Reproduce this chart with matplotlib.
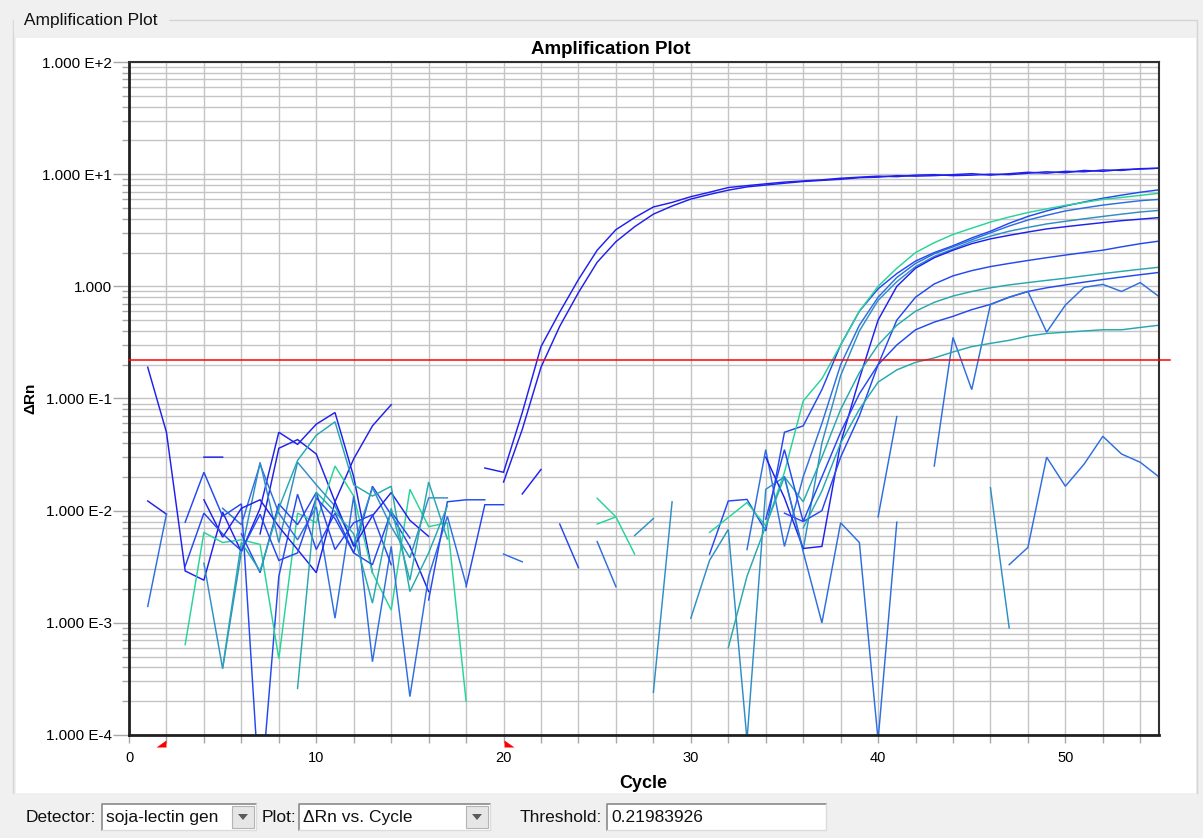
import numpy as np
import matplotlib
matplotlib.use("Agg")
import matplotlib.pyplot as plt
from matplotlib.patches import Rectangle, Polygon
from matplotlib.ticker import FixedLocator, FixedFormatter, LogLocator, NullFormatter

plt.rcParams["font.family"] = ["Liberation Sans", "DejaVu Sans"]

W, H = 1203, 838
nan = np.nan

# ---- data: delta Rn per well, cycles 1..55 (nan = not drawn / negative) ----
cycles = np.arange(1, 56)
threshold = 0.21983926

well_a = [0.19, 0.05, 0.0029, 0.0024, 0.0097, 0.0043, 0.0105, 0.05, 0.039, 0.059, 0.075,
          0.02, 0.0028, nan, 0.0048, 0.0019, nan, nan, 0.024, 0.022, 0.075, 0.29,
          0.59, 1.15, 2.1, 3.2, 4.1, 5.1, 5.6, 6.3, 6.9, 7.6, 7.9,
          8.2, 8.5, 8.7, 8.9, 9.2, 9.4, 9.6, 9.5, 9.8, 9.9, 9.7,
          9.8, 10.0, 9.9, 10.2, 10.5, 10.3, 10.8, 10.6, 11.0, 11.1, 11.3]
well_b = [0.0122, 0.0093, nan, 0.03, 0.03, nan, 0.0062, 0.036, 0.043, 0.032, 0.012,
          0.029, 0.057, 0.088, nan, nan, nan, nan, nan, 0.018, 0.053, 0.19,
          0.44, 0.88, 1.64, 2.5, 3.4, 4.4, 5.2, 6.0, 6.6, 7.2, 7.7,
          8.0, 8.3, 8.6, 8.8, 9.0, 9.3, 9.4, 9.7, 9.6, 9.7, 9.9,
          10.1, 9.8, 10.1, 10.4, 10.2, 10.6, 10.5, 10.9, 10.8, 11.2, 11.3]
well_c = [nan, nan, 0.0079, 0.022, 0.0089, 0.0115, 2.5e-5, 0.0026, 0.014, 0.0045, 0.0095,
          0.0042, 0.0165, 0.0092, 0.0048, nan, nan, 0.0021, 0.0113, 0.0113, nan, nan,
          0.0076, 0.0031, nan, nan, nan, nan, nan, nan, 0.0041, 0.0122, 0.0126,
          0.0066, 0.05, 0.057, 0.12, 0.3, 0.6, 0.95, 1.3, 1.68, 2.0, 2.3,
          2.7, 3.1, 3.65, 4.2, 4.7, 5.2, 5.65, 6.1, 6.5, 6.9, 7.25]
well_d = [nan, nan, 0.00064, 0.0064, 0.0052, 0.0055, 0.005, 0.00048, 0.0095, 0.0078, 0.025,
          0.0135, 0.0028, 0.0013, 0.0155, 0.0072, 0.0078, 0.0002, nan, nan, nan, nan,
          nan, nan, 0.0129, 0.0088, 0.0041, nan, nan, nan, 0.0064, 0.0087, 0.0118,
          0.0073, 0.022, 0.095, 0.15, 0.3, 0.6, 1.0, 1.45, 2.0, 2.45, 2.9,
          3.3, 3.74, 4.15, 4.55, 4.9, 5.27, 5.6, 5.96, 6.2, 6.47, 6.75]
well_e = [0.0014, 0.0093, nan, nan, 0.0105, 0.0075, 0.026, 0.0095, 0.0055, 0.0108, 0.0011,
          0.0135, 0.00045, 0.0048, 0.00022, 0.0026, 0.0089, 0.0022, nan, 0.0041, 0.0035, nan,
          nan, nan, 0.0053, 0.0021, nan, nan, nan, nan, nan, nan, 0.0045,
          0.035, 0.0048, 0.02, 0.06, 0.2, 0.45, 0.8, 1.2, 1.6, 1.95, 2.25,
          2.6, 3.0, 3.45, 3.9, 4.3, 4.7, 5.0, 5.3, 5.55, 5.8, 5.96]
well_f = [nan, nan, nan, 0.0034, 0.00039, 0.0043, 0.027, 0.0052, 0.027, 0.017, 0.011,
          0.005, 0.016, 0.0072, 0.0038, 0.013, 0.013, nan, nan, nan, nan, nan,
          nan, nan, nan, nan, 0.006, 0.0085, nan, 0.0011, 0.0036, 0.0068, 9e-5,
          0.0155, 0.02, 0.0045, 0.04, 0.16, 0.4, 0.75, 1.1, 1.5, 1.85, 2.15,
          2.5, 2.8, 3.1, 3.35, 3.6, 3.8, 4.0, 4.2, 4.4, 4.6, 4.75]
well_g = [nan, nan, nan, 0.0125, 0.0058, 0.0105, 0.0125, 0.0072, 0.0045, 0.0028, 0.012,
          0.0048, 0.009, 0.0145, 0.0082, 0.0059, nan, nan, nan, nan, 0.0141, 0.0233,
          nan, nan, nan, nan, nan, nan, nan, nan, nan, nan, nan,
          0.03, 0.013, 0.0046, 0.0048, 0.04, 0.15, 0.5, 1.0, 1.45, 1.8, 2.1,
          2.4, 2.65, 2.85, 3.05, 3.25, 3.4, 3.55, 3.7, 3.85, 3.97, 4.1]
well_h = [nan, nan, nan, nan, nan, 0.0062, 0.0028, 0.0115, 0.0075, 0.0145, 0.0045,
          0.0078, 0.0092, 0.0033, nan, 0.0016, 0.012, 0.0125, 0.0125, nan, nan, nan,
          nan, nan, nan, nan, nan, nan, nan, nan, nan, nan, nan,
          nan, 0.0095, 0.008, 0.01, 0.03, 0.07, 0.2, 0.5, 0.8, 1.05, 1.24,
          1.38, 1.5, 1.6, 1.7, 1.8, 1.9, 2.0, 2.1, 2.25, 2.4, 2.53]
well_i = [nan, nan, nan, nan, 0.0004, 0.0052, 0.0029, 0.0105, 0.028, 0.047, 0.062,
          0.017, 0.0135, 0.0165, 0.0019, 0.0042, 0.011, nan, nan, nan, nan, nan,
          nan, nan, nan, nan, nan, nan, nan, nan, nan, 0.0006, 0.0026,
          0.0073, 0.02, 0.012, 0.03, 0.08, 0.17, 0.3, 0.45, 0.6, 0.72, 0.82,
          0.9, 0.97, 1.03, 1.08, 1.13, 1.18, 1.24, 1.3, 1.36, 1.42, 1.48]
well_j = [nan, nan, 0.0032, 0.0095, 0.0062, 0.0044, 0.0093, 0.0036, 0.0042, 0.013, 0.0085,
          0.0042, 0.0033, 0.0098, 0.0057, nan, nan, nan, nan, nan, nan, nan,
          nan, nan, nan, nan, nan, nan, nan, nan, nan, nan, nan,
          0.0084, 0.035, 0.008, 0.02, 0.05, 0.11, 0.2, 0.3, 0.41, 0.48, 0.54,
          0.62, 0.69, 0.8, 0.9, 0.97, 1.03, 1.09, 1.15, 1.21, 1.27, 1.33]
well_k = [nan, nan, nan, nan, nan, nan, nan, nan, nan, nan, nan,
          nan, nan, nan, nan, nan, nan, nan, nan, nan, nan, nan,
          nan, nan, nan, nan, nan, nan, nan, nan, nan, nan, nan,
          nan, nan, nan, nan, nan, nan, 0.0088, 0.069, nan, 0.025, 0.35,
          0.12, 0.69, 0.8, 0.9, 0.39, 0.68, 0.98, 1.04, 0.9, 1.08, 0.81]
well_l = [nan, nan, nan, nan, nan, nan, nan, nan, 0.00026, 0.0146, 0.0098,
          0.0062, 0.0015, 0.0105, 0.0024, 0.018, 0.0056, nan, nan, nan, nan, nan,
          nan, nan, nan, nan, nan, nan, nan, nan, nan, nan, nan,
          nan, nan, 0.007, 0.015, 0.04, 0.08, 0.14, 0.18, 0.21, 0.23, 0.26,
          0.29, 0.31, 0.33, 0.36, 0.38, 0.39, 0.4, 0.41, 0.41, 0.43, 0.45]
well_m = [nan, nan, nan, nan, nan, nan, nan, nan, nan, nan, nan,
          nan, nan, nan, nan, nan, nan, nan, nan, nan, nan, nan,
          nan, nan, nan, nan, nan, nan, nan, nan, nan, nan, nan,
          nan, 0.02, 0.0043, 0.001, 0.0078, 0.0052, 9e-5, 0.0079, nan, nan, nan,
          nan, nan, 0.0033, 0.0047, 0.030, 0.0165, 0.026, 0.046, 0.032, 0.027, 0.020]
well_n = [nan, nan, nan, nan, nan, nan, nan, nan, nan, nan, nan,
          nan, nan, nan, nan, nan, nan, nan, nan, nan, nan, nan,
          nan, nan, nan, nan, nan, 0.00024, 0.012, nan, nan, nan, nan,
          nan, nan, nan, nan, nan, nan, nan, nan, nan, nan, nan,
          nan, 0.016, 0.0009, nan, nan, nan, nan, nan, nan, nan, nan]
well_o = [nan, nan, nan, nan, nan, nan, nan, nan, nan, nan, nan,
          nan, nan, nan, nan, nan, nan, nan, nan, nan, nan, nan,
          nan, nan, 0.0076, 0.0088, nan, nan, nan, nan, nan, nan, nan,
          nan, nan, nan, nan, nan, nan, nan, nan, nan, nan, nan,
          nan, nan, nan, nan, nan, nan, nan, nan, nan, nan, nan]

wells = [well_a, well_b, well_c, well_d, well_e, well_f, well_g, well_h,
         well_i, well_j, well_k, well_l, well_m, well_n, well_o]
well_colors = ["#1f1ff0", "#2020e8", "#2448f0", "#26d49a", "#2e6ee0", "#2e8ec8",
               "#1f1ff0", "#2448f0", "#26a8b0", "#2448f0", "#2e6ee0", "#26a8b0",
               "#2e6ee0", "#2e8ec8", "#26d49a"]

ytick_values = [1e-4, 1e-3, 1e-2, 1e-1, 1, 10, 100]
ytick_labels = ["1.000 E-4", "1.000 E-3", "1.000 E-2", "1.000 E-1",
                "1.000", "1.000 E+1", "1.000 E+2"]
xtick_labels = [0, 10, 20, 30, 40, 50]
baseline_start, baseline_end = 2, 20


def fx(x):
    return x / W


def fy(y):
    return 1 - y / H


def frect(fig, x0, y0, x1, y1, **kw):
    fig.patches.append(Rectangle((fx(x0), fy(y1)), (x1 - x0) / W, (y1 - y0) / H,
                                 transform=fig.transFigure, **kw))


def fline(fig, xs, ys, **kw):
    fig.lines.append(plt.Line2D([fx(x) for x in xs], [fy(y) for y in ys],
                                transform=fig.transFigure, **kw))


def combo(fig, x0, x1, text, button=True):
    y0, y1 = 804, 830
    frect(fig, x0, y0, x1, y1, facecolor="white", edgecolor="none")
    fline(fig, [x0, x0, x1], [y1, y0, y0], color="#8a8a8a", lw=1.2)
    fline(fig, [x0, x1, x1], [y1, y1, y0], color="#dcdcdc", lw=1.0)
    fig.text(fx(x0 + 4), fy(817), text, fontsize=12.5, va="center", ha="left",
             color="#111111")
    if button:
        bx0, bx1 = x1 - 24, x1 - 2
        frect(fig, bx0, y0 + 2, bx1, y1 - 2, facecolor="#e6e6e6", edgecolor="#b4b4b4",
              lw=0.8)
        cx = (bx0 + bx1) / 2
        fig.patches.append(Polygon([(fx(cx - 5), fy(814)), (fx(cx + 5), fy(814)),
                                    (fx(cx), fy(820))], closed=True,
                                   transform=fig.transFigure, facecolor="#5a5a5a",
                                   edgecolor="none"))


fig = plt.figure(figsize=(W / 100, H / 100), dpi=100, facecolor="#f0f0f0")

# group box and white chart area
frect(fig, 16, 38, 1196, 793, facecolor="white", edgecolor="none")
fline(fig, [13, 13, 1197, 1197], [793, 20, 20, 793], color="#d4d4d4", lw=1.0)
fig.text(fx(20), fy(21), " Amplification Plot ", fontsize=12.5, va="center",
         ha="left", color="#111111", backgroundcolor="#f0f0f0")

ax = fig.add_axes([fx(129), fy(735), (1159 - 129) / W, (735 - 62) / H])
ax.set_zorder(3)
ax.set_facecolor("white")

for vals, col in zip(wells, well_colors):
    ax.plot(cycles, vals, color=col, lw=1.05, solid_joinstyle="miter")

ax.axhline(threshold, xmin=0, xmax=1.011, color="#ff0000", lw=1.1, clip_on=False,
           zorder=5)

ax.set_yscale("log")
ax.set_xlim(0, 55)
ax.set_ylim(1e-4, 1e2)

ax.yaxis.set_major_locator(FixedLocator(ytick_values))
ax.yaxis.set_major_formatter(FixedFormatter(ytick_labels))
ax.yaxis.set_minor_locator(LogLocator(base=10, subs=np.arange(2, 10)))
ax.yaxis.set_minor_formatter(NullFormatter())
ax.xaxis.set_major_locator(FixedLocator(xtick_labels))
ax.xaxis.set_minor_locator(FixedLocator(np.arange(0, 56, 2)))

ax.grid(True, which="both", color="#c4c4c4", lw=1.0, zorder=0)
ax.set_axisbelow(True)

ax.tick_params(axis="both", which="both", direction="out", color="#a8a8a8")
ax.tick_params(axis="y", which="major", length=11.5, width=1.0, pad=1, labelsize=11)
ax.tick_params(axis="y", which="minor", length=5, width=1.0)
ax.tick_params(axis="x", which="both", length=5.5, width=1.0, pad=6, labelsize=10.5)

for side in ("top", "right"):
    ax.spines[side].set_color("#303030")
    ax.spines[side].set_linewidth(1.5)
for side in ("left", "bottom"):
    ax.spines[side].set_color("#202020")
    ax.spines[side].set_linewidth(2.0)

# baseline start / end markers under the x axis
mark_start = [(-10, -12), (0, -12), (0, -5)]
mark_end = [(0, -5), (0, -12), (10, -12)]
ax.plot([baseline_start], [1e-4], marker=mark_start, ms=17.3, color="#ff0000",
        mec="none", clip_on=False, zorder=6)
ax.plot([baseline_end], [1e-4], marker=mark_end, ms=17.3, color="#ff0000",
        mec="none", clip_on=False, zorder=6)

fig.text(fx(611), fy(50), "Amplification Plot", fontsize=13.5, fontweight="bold",
         ha="center", va="center")
fig.text(fx(643), fy(783), "Cycle", fontsize=13, fontweight="bold",
         ha="center", va="center")
fig.text(fx(30), fy(398), "ΔRn", fontsize=11, fontweight="bold", rotation=90,
         ha="center", va="center")

# control bar below the chart
fig.text(fx(26), fy(817), "Detector:", fontsize=12.5, va="center", ha="left",
         color="#111111")
combo(fig, 102, 256, "soja-lectin gen")
fig.text(fx(262), fy(817), "Plot:", fontsize=12.5, va="center", ha="left",
         color="#111111")
combo(fig, 299, 490, "ΔRn vs. Cycle")
fig.text(fx(520), fy(817), "Threshold:", fontsize=12.5, va="center", ha="left",
         color="#111111")
combo(fig, 607, 826, f"{threshold:.8f}", button=False)

fig.savefig("out.png", dpi=100, facecolor=fig.get_facecolor())
